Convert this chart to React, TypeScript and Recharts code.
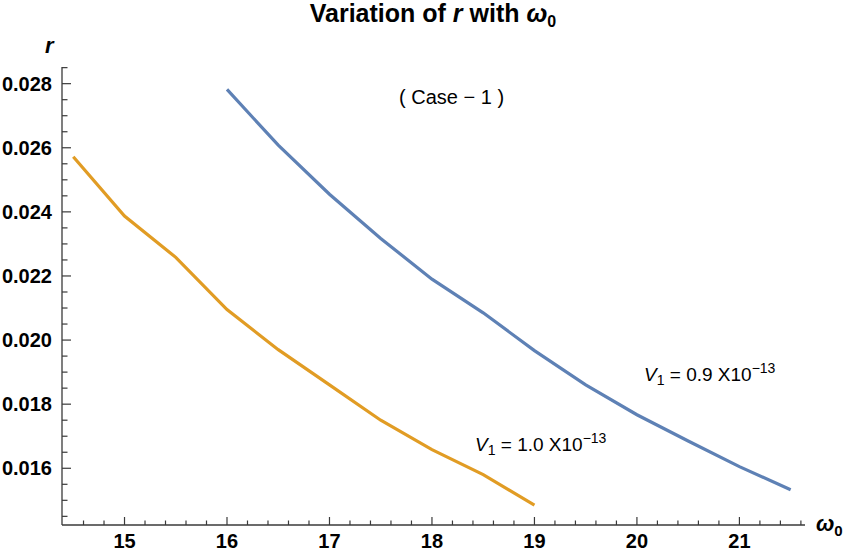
import React from 'react';
import { Line, LineChart, XAxis, YAxis } from 'recharts';

// omega_0 grid and r values for V1 = 1.0e-13 (orange) and V1 = 0.9e-13 (blue)
const omegaV10 = [14.5, 15, 15.5, 16, 16.5, 17, 17.5, 18, 18.5, 19];
const rV10 = [0.02572, 0.02387, 0.02258, 0.02095, 0.0197, 0.0186, 0.0175, 0.01658, 0.0158, 0.01485];

const omegaV09 = [16, 16.5, 17, 17.5, 18, 18.5, 19, 19.5, 20, 20.5, 21, 21.5];
const rV09 = [0.02782, 0.02608, 0.02455, 0.02317, 0.0219, 0.02085, 0.01967, 0.0186, 0.01767, 0.01685, 0.01605, 0.01533];

const xMajor = [15, 16, 17, 18, 19, 20, 21];
const yMajor = [0.016, 0.018, 0.02, 0.022, 0.024, 0.026, 0.028];

const steps = (from: number, to: number, step: number, digits: number) => {
  const out: number[] = [];
  for (let v = from; v <= to + step / 2; v += step) out.push(Number(v.toFixed(digits)));
  return out;
};
const xTicks = steps(14.6, 21.6, 0.2, 1);
const yTicks = steps(0.0145, 0.0285, 0.0005, 4);

const blueData = omegaV09.map((w, i) => ({ w, r: rV09[i] }));
const orangeData = omegaV10.map((w, i) => ({ w, r: rV10[i] }));

const AXIS = '#3a3a3a';
const FONT = '"Liberation Sans", Arial, sans-serif';

const isMajor = (list: number[], v: number) => list.some((m) => Math.abs(m - v) < 1e-7);

function XTick({ x, y, payload }: any) {
  const major = isMajor(xMajor, payload.value);
  return (
    <g>
      <line x1={x} x2={x} y1={y} y2={y - (major ? 8 : 4.5)} stroke={AXIS} strokeWidth={1.2} />
      {major && (
        <text x={x} y={y + 23} textAnchor="middle" fontFamily={FONT} fontWeight="bold" fontSize={20} fill="#000">
          {payload.value}
        </text>
      )}
    </g>
  );
}

function YTick({ x, y, payload }: any) {
  const major = isMajor(yMajor, payload.value);
  return (
    <g>
      <line x1={x} x2={x + (major ? 9 : 5.5)} y1={y} y2={y} stroke={AXIS} strokeWidth={1.2} />
      {major && (
        <text x={x - 10} y={y + 7} textAnchor="end" fontFamily={FONT} fontWeight="bold" fontSize={20} fill="#000">
          {payload.value.toFixed(3)}
        </text>
      )}
    </g>
  );
}

function Overlay() {
  return (
    <svg width={853} height={551} style={{ position: 'absolute', left: 0, top: 0, pointerEvents: 'none' }}>
      <text x={433} y={22} textAnchor="middle" fontFamily={FONT} fontWeight="bold" fontSize={25} fill="#000">
        Variation of <tspan fontStyle="italic">r</tspan> with <tspan fontStyle="italic">ω</tspan>
        <tspan fontSize={16} dy={5}>0</tspan>
      </text>
      <text x={45} y={53} fontFamily={FONT} fontWeight="bold" fontStyle="italic" fontSize={22} fill="#000">
        r
      </text>
      <text x={816} y={531} fontFamily={FONT} fontWeight="bold" fontStyle="italic" fontSize={22} fill="#000">
        ω<tspan fontSize={15} dy={5} fontStyle="normal">0</tspan>
      </text>
      <text x={399} y={104} fontFamily={FONT} fontSize={20} fill="#000">
        ( Case − 1 )
      </text>
      <text x={644} y={381} fontFamily={FONT} fontSize={19} fill="#000">
        <tspan fontStyle="italic">V</tspan>
        <tspan fontSize={14} dy={4}>1</tspan>
        <tspan dy={-4}> = 0.9 X10</tspan>
        <tspan fontSize={14} dy={-8}>−13</tspan>
      </text>
      <text x={475} y={451} fontFamily={FONT} fontSize={19} fill="#000">
        <tspan fontStyle="italic">V</tspan>
        <tspan fontSize={14} dy={4}>1</tspan>
        <tspan dy={-4}> = 1.0 X10</tspan>
        <tspan fontSize={14} dy={-8}>−13</tspan>
      </text>
    </svg>
  );
}

export default function App() {
  return (
    <div style={{ position: 'absolute', left: 0, top: 0, width: 853, height: 551, background: '#fff' }}>
      <LineChart width={853} height={551} margin={{ top: 67, right: 48, bottom: 0, left: 0 }}>
        <XAxis
          type="number"
          dataKey="w"
          domain={[14.39, 21.64]}
          ticks={xTicks}
          interval={0}
          allowDataOverflow
          height={26}
          tickSize={0}
          tickMargin={0}
          tickLine={false}
          tick={<XTick />}
          axisLine={{ stroke: AXIS, strokeWidth: 1.3 }}
        />
        <YAxis
          type="number"
          dataKey="r"
          domain={[0.01423, 0.02852]}
          ticks={yTicks}
          interval={0}
          allowDataOverflow
          width={62}
          tickSize={0}
          tickMargin={0}
          tickLine={false}
          tick={<YTick />}
          axisLine={{ stroke: AXIS, strokeWidth: 1.3 }}
        />
        <Line
          data={blueData}
          dataKey="r"
          type="linear"
          stroke="#5E81B5"
          strokeWidth={3.2}
          dot={false}
          isAnimationActive={false}
        />
        <Line
          data={orangeData}
          dataKey="r"
          type="linear"
          stroke="#E19C24"
          strokeWidth={3.2}
          dot={false}
          isAnimationActive={false}
        />
      </LineChart>
      <Overlay />
    </div>
  );
}
